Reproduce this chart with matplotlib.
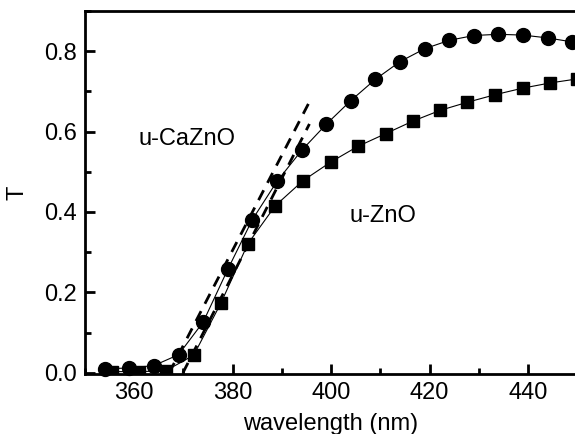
import matplotlib
matplotlib.use("Agg")
import matplotlib.pyplot as plt
from matplotlib.ticker import MultipleLocator

plt.rcParams['font.family'] = ['Liberation Sans', 'DejaVu Sans']

# u-CaZnO transmission (circles)
wl_ca = [354, 359, 364, 369, 374, 379, 384, 389, 394, 399,
         404, 409, 414, 419, 424, 429, 434, 439, 444, 449]
t_ca = [0.010, 0.012, 0.018, 0.045, 0.126, 0.257, 0.381, 0.476, 0.553, 0.618,
        0.677, 0.730, 0.774, 0.806, 0.827, 0.839, 0.842, 0.840, 0.833, 0.823]

# u-ZnO transmission (squares)
wl_zn = [355.4, 361.0, 366.4, 372.1, 377.6, 383.1, 388.7, 394.3, 399.9,
         405.4, 411.1, 416.6, 422.2, 427.7, 433.4, 438.9, 444.5, 450.0]
t_zn = [0.003, 0.003, 0.005, 0.044, 0.173, 0.321, 0.416, 0.478, 0.524,
        0.563, 0.595, 0.626, 0.653, 0.673, 0.692, 0.708, 0.721, 0.731]

# band-edge tangent lines
tan_ca_x = [367.1, 395.6]
tan_ca_y = [0.0, 0.674]
tan_zn_x = [369.9, 395.6]
tan_zn_y = [0.0, 0.619]

fig = plt.figure(figsize=(5.75, 4.34), dpi=100)
ax = fig.add_axes([0.1478, 0.1382, 0.856, 0.8365])

ax.plot(wl_ca, t_ca, '-', color='black', lw=0.8, marker='o', ms=10,
        mfc='black', mec='black', clip_on=False, zorder=3)
ax.plot(wl_zn, t_zn, '-', color='black', lw=0.8, marker='s', ms=8,
        mfc='black', mec='black', clip_on=True, zorder=3)
ax.plot(tan_ca_x, tan_ca_y, '--', color='black', lw=2.0, dashes=(4, 3), zorder=2)
ax.plot(tan_zn_x, tan_zn_y, '--', color='black', lw=2.0, dashes=(4, 3), zorder=2)

ax.text(370.7, 0.582, 'u-CaZnO', fontsize=17, ha='center', va='center')
ax.text(410.5, 0.391, 'u-ZnO', fontsize=17, ha='center', va='center')

ax.set_xlim(350, 450)
ax.set_ylim(-0.003, 0.90)
ax.xaxis.set_major_locator(MultipleLocator(20))
ax.xaxis.set_minor_locator(MultipleLocator(10))
ax.yaxis.set_major_locator(MultipleLocator(0.2))
ax.yaxis.set_minor_locator(MultipleLocator(0.1))
ax.yaxis.set_major_formatter(plt.FuncFormatter(lambda v, p: '%.1f' % v))

ax.tick_params(which='both', direction='in', labelsize=17, width=2)
ax.tick_params(which='major', length=7, pad=6)
ax.tick_params(which='minor', length=4)
for s in ax.spines.values():
    s.set_linewidth(2.0)

ax.set_xlabel('wavelength (nm)', fontsize=17, labelpad=6.5)
ax.set_ylabel('T', fontsize=17, labelpad=11)

fig.savefig('out.png', dpi=100)
